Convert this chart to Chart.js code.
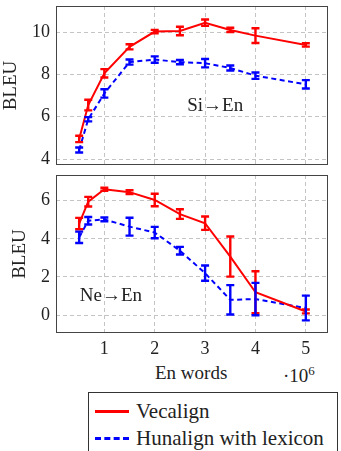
<!DOCTYPE html>
<html>
<head>
<meta charset="utf-8">
<script src="https://cdn.jsdelivr.net/npm/chart.js@4"></script>
<style>
body { margin: 0; background: #fff; }
#wrap { position: relative; width: 341px; height: 451px; overflow: hidden; font-family: "Liberation Serif", serif; color: #222; }
.box { position: absolute; left: 0; width: 341px; }
.txt { position: absolute; white-space: nowrap; line-height: 1; }
#legend { position: absolute; left: 88px; top: 392px; width: 250px; height: 80px; border: 1px solid #333; box-sizing: border-box; font-size: 21px; font-family: "Liberation Serif", serif; }
.row { position: absolute; left: 0; height: 22px; }
.sample { position: absolute; left: 6px; width: 34px; top: 10px; height: 0; }
.lab { position: absolute; left: 47px; top: -1px; white-space: nowrap; }
</style>
</head>
<body>
<div id="wrap">
  <div class="box" style="top:0;height:170px"><canvas id="topChart"></canvas></div>
  <div class="box" style="top:170px;height:190px"><canvas id="bottomChart"></canvas></div>
  <div class="txt" style="left:155px;top:363px;font-size:19px">En words</div>
  <div class="txt" style="left:283px;top:364px;font-size:19px">&middot;10<sup style="font-size:13px;vertical-align:7px">6</sup></div>
  <div id="legend">
    <div class="row" style="top:7px"><div class="sample" style="border-top:3px solid #f00"></div><div class="lab">Vecalign</div></div>
    <div class="row" style="top:34px"><div class="sample" style="border-top:3px dashed #00f"></div><div class="lab">Hunalign with lexicon</div></div>
  </div>
</div>
<script>
// data (x in millions of English words)
var enWords = [0.5, 0.68, 1, 1.5, 2, 2.5, 3, 3.5, 4, 5];

var siVecalign = [4.95, 6.55, 8.05, 9.3, 10.02, 10.05, 10.44, 10.1, 9.83, 9.39];
var siVecalignErr = [0.15, 0.25, 0.2, 0.12, 0.08, 0.2, 0.15, 0.1, 0.35, 0.08];
var siHunalign = [4.43, 5.88, 7.1, 8.58, 8.7, 8.58, 8.53, 8.3, 7.94, 7.53];
var siHunalignErr = [0.12, 0.1, 0.2, 0.12, 0.15, 0.1, 0.2, 0.12, 0.15, 0.2];

var neVecalign = [4.8, 5.95, 6.6, 6.45, 6.04, 5.3, 4.82, 3.07, 1.2, 0.19];
var neVecalignErr = [0.3, 0.25, 0.08, 0.1, 0.33, 0.25, 0.35, 1.05, 1.1, 0.1];
var neHunalign = [4.08, 4.95, 5.02, 4.64, 4.33, 3.38, 2.2, 0.8, 0.84, 0.37];
var neHunalignErr = [0.3, 0.2, 0.1, 0.47, 0.3, 0.2, 0.4, 0.77, 0.85, 0.65];

var xTicks = [1, 2, 3, 4, 5];
var siTicks = [4, 6, 8, 10];
var neTicks = [0, 2, 4, 6];

var serif = "'Liberation Serif', serif";

function points(ys) {
  return enWords.map(function (x, i) { return {x: x, y: ys[i]}; });
}

// error bars + frame, drawn with the chart's own scales
var errorBars = {
  id: "errorBars",
  afterDatasetsDraw: function (chart) {
    var ctx = chart.ctx;
    var xs = chart.scales.x, ys = chart.scales.y;
    chart.data.datasets.forEach(function (ds) {
      ctx.save();
      ctx.strokeStyle = ds.borderColor;
      ctx.lineWidth = 2.4;
      ds.data.forEach(function (p, i) {
        var e = ds.errors[i];
        var px = xs.getPixelForValue(p.x);
        var y1 = ys.getPixelForValue(p.y - e);
        var y2 = ys.getPixelForValue(p.y + e);
        ctx.beginPath();
        ctx.moveTo(px, y1); ctx.lineTo(px, y2);
        ctx.moveTo(px - 4, y1); ctx.lineTo(px + 4, y1);
        ctx.moveTo(px - 4, y2); ctx.lineTo(px + 4, y2);
        ctx.stroke();
      });
      ctx.restore();
    });
    var a = chart.chartArea;
    ctx.save();
    ctx.strokeStyle = "#444";
    ctx.lineWidth = 1;
    ctx.strokeRect(a.left + 0.5, a.top + 0.5, a.right - a.left - 1, a.bottom - a.top - 1);
    ctx.restore();
  }
};

// note text inside the plot
var note = {
  id: "note",
  afterDraw: function (chart) {
    var o = chart.options.plugins.note;
    var ctx = chart.ctx;
    ctx.save();
    ctx.font = "19px " + serif;
    ctx.fillStyle = "#222";
    ctx.textAlign = "center";
    ctx.textBaseline = "middle";
    ctx.fillText(o.text, chart.scales.x.getPixelForValue(o.x), chart.scales.y.getPixelForValue(o.y));
    ctx.restore();
  }
};

function noPad(s) {
  s.paddingTop = 0; s.paddingBottom = 0; s.paddingLeft = 0; s.paddingRight = 0;
}

function makeChart(id, vec, vecErr, hun, hunErr, yMin, yMax, yTicks, showX, padTop, xHeight, titlePad, noteText, noteX, noteY) {
  new Chart(id, {
    type: "line",
    data: {
      datasets: [{
        label: "Vecalign",
        data: points(vec),
        errors: vecErr,
        borderColor: "#ff0000",
        borderWidth: 2,
        pointRadius: 0,
        tension: 0
      }, {
        label: "Hunalign with lexicon",
        data: points(hun),
        errors: hunErr,
        borderColor: "#0000ff",
        borderWidth: 2,
        borderDash: [5, 3.5],
        pointRadius: 0,
        tension: 0
      }]
    },
    options: {
      responsive: true,
      maintainAspectRatio: false,
      animation: false,
      layout: {padding: {top: padTop, right: 13, left: 0, bottom: 0}},
      plugins: {
        legend: {display: false},
        tooltip: {enabled: false},
        note: {text: noteText, x: noteX, y: noteY}
      },
      scales: {
        x: {
          type: "linear",
          min: 0.04,
          max: 5.44,
          afterBuildTicks: function (s) { s.ticks = xTicks.map(function (v) { return {value: v}; }); },
          afterFit: function (s) { s.height = xHeight; noPad(s); },
          border: {display: false, dash: [4, 3]},
          grid: {color: "#c4c4c4", drawTicks: false},
          ticks: {display: showX, padding: 5, color: "#222", font: {family: serif, size: 18}}
        },
        y: {
          min: yMin,
          max: yMax,
          afterBuildTicks: function (s) { s.ticks = yTicks.map(function (v) { return {value: v}; }); },
          afterFit: function (s) { s.width = 56; noPad(s); },
          border: {display: false, dash: [4, 3]},
          grid: {color: "#c4c4c4", drawTicks: false},
          ticks: {padding: 6, color: "#222", font: {family: serif, size: 18}},
          title: {display: true, text: "BLEU", color: "#222", padding: {top: titlePad, bottom: 0}, font: {family: serif, size: 19, lineHeight: 1}}
        }
      }
    },
    plugins: [errorBars, note]
  });
}

makeChart("topChart", siVecalign, siVecalignErr, siHunalign, siHunalignErr,
  3.72, 11.23, siTicks, false, 6, 5, 2, "Si\u2192En", 3.2, 6.5);
makeChart("bottomChart", neVecalign, neVecalignErr, neHunalign, neHunalignErr,
  -0.94, 7.35, neTicks, true, 5, 27, 11, "Ne\u2192En", 1.13, 1.0);
</script>
</body>
</html>
